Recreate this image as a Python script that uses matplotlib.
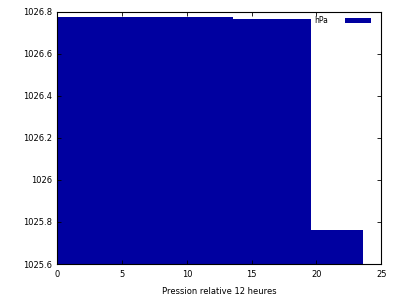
import matplotlib
matplotlib.use("Agg")
import matplotlib.pyplot as plt
from matplotlib.ticker import FuncFormatter

# step edges (heures) and pressure values (hPa)
edges = [0, 13.55, 19.57, 23.56]
pressions = [1026.775, 1026.765, 1025.762]
couleur = "#0000a0"

plt.rcParams["font.family"] = "DejaVu Sans"
plt.rcParams["font.size"] = 6

fig = plt.figure(figsize=(4, 3), dpi=100)
ax = fig.add_axes([0.1433, 0.12, 0.953 - 0.1433, 0.961 - 0.12])

ymin = 1025.6
for i in range(len(pressions)):
    ax.bar(edges[i], pressions[i] - ymin, width=edges[i + 1] - edges[i],
           bottom=ymin, align="edge", color=couleur, linewidth=0,
           label="hPa" if i == 0 else None)

ax.set_xlim(0, 25)
ax.set_ylim(1025.6, 1026.8)
ax.set_xticks([0, 5, 10, 15, 20, 25])
ax.set_yticks([1025.6, 1025.8, 1026, 1026.2, 1026.4, 1026.6, 1026.8])
ax.yaxis.set_major_formatter(FuncFormatter(lambda v, p: "%g" % round(v, 1)))
ax.tick_params(direction="in", top=True, right=True, length=3, width=0.6, pad=4)
for s in ax.spines.values():
    s.set_linewidth(0.8)
ax.set_xlabel("Pression relative 12 heures", fontsize=6, labelpad=6)

leg = ax.legend(loc="upper right", bbox_to_anchor=(1.0, 1.022), frameon=False,
                handlelength=3.4, handleheight=0.5, handletextpad=2.2,
                markerfirst=False, fontsize=5.5, borderaxespad=0.9, borderpad=0.4)

fig.savefig("out.png", dpi=100)
